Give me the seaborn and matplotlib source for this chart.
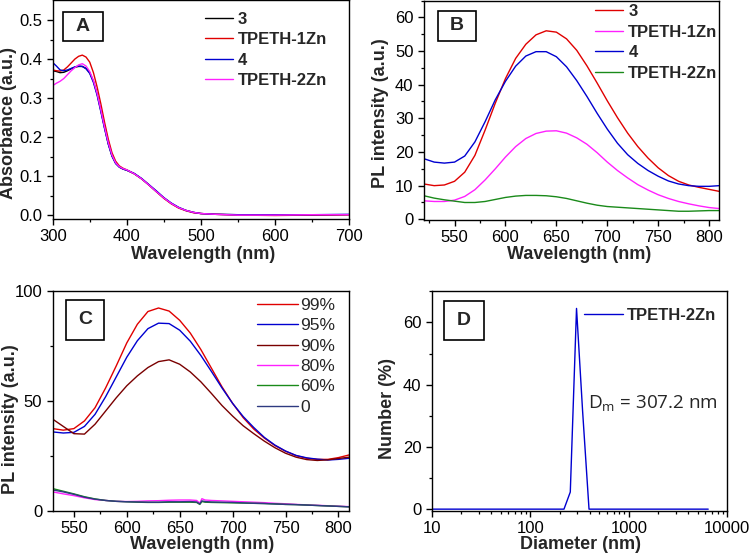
import numpy as np
import pandas as pd
import matplotlib
matplotlib.use("Agg")
import matplotlib.pyplot as plt
from matplotlib.lines import Line2D
from matplotlib.patches import Rectangle
from matplotlib.ticker import MultipleLocator, LogLocator, NullFormatter, FixedLocator
import seaborn as sns

# ---- data ----
# A: absorbance
wl_a = [300, 305, 310, 315, 320, 325, 330, 335, 340, 345, 350, 355, 360, 365, 370, 375, 380, 385,
        390, 395, 400, 410, 420, 430, 440, 450, 460, 470, 480, 490, 500, 520, 550, 600, 650, 700]
abs_3 = [0.370, 0.368, 0.365, 0.366, 0.370, 0.375, 0.379, 0.381, 0.381, 0.376, 0.365, 0.343, 0.310,
         0.268, 0.224, 0.183, 0.152, 0.133, 0.123, 0.118, 0.115, 0.106, 0.093, 0.077, 0.060, 0.044,
         0.030, 0.019, 0.012, 0.007, 0.004, 0.002, 0.001, 0.000, 0.000, 0.001]
abs_1zn = [0.372, 0.370, 0.369, 0.372, 0.380, 0.390, 0.400, 0.407, 0.410, 0.405, 0.392, 0.365, 0.328,
           0.285, 0.238, 0.195, 0.160, 0.138, 0.126, 0.120, 0.116, 0.106, 0.093, 0.077, 0.060, 0.043,
           0.029, 0.018, 0.011, 0.006, 0.004, 0.002, 0.000, -0.001, 0.000, 0.001]
abs_4 = [0.391, 0.382, 0.372, 0.370, 0.372, 0.376, 0.380, 0.382, 0.381, 0.375, 0.363, 0.340, 0.307,
         0.265, 0.222, 0.182, 0.151, 0.132, 0.123, 0.118, 0.115, 0.107, 0.094, 0.078, 0.062, 0.045,
         0.031, 0.020, 0.012, 0.007, 0.004, 0.002, 0.001, 0.001, 0.001, 0.002]
abs_2zn = [0.332, 0.338, 0.343, 0.350, 0.360, 0.370, 0.378, 0.385, 0.388, 0.382, 0.368, 0.345, 0.312,
           0.270, 0.226, 0.186, 0.154, 0.134, 0.124, 0.119, 0.116, 0.106, 0.093, 0.077, 0.060, 0.044,
           0.030, 0.019, 0.012, 0.007, 0.004, 0.002, 0.000, 0.000, 0.001, 0.001]

# B: PL spectra
wl_b = list(range(520, 811, 10))
pl_3 = [10.5, 10.0, 10.2, 11.3, 14.0, 19.0, 26.5, 34.5, 41.8, 47.8, 52.0, 54.8, 56.0, 55.6, 53.6,
        50.2, 45.6, 40.5, 35.2, 30.2, 25.6, 21.6, 18.2, 15.3, 13.0, 11.3, 10.2, 9.5, 8.9, 8.3]
pl_4 = [18.0, 17.0, 16.7, 17.0, 18.8, 23.0, 29.0, 35.5, 41.0, 45.5, 48.5, 49.8, 49.8, 48.3, 45.3,
        41.2, 36.5, 31.5, 26.8, 22.6, 19.2, 16.6, 14.5, 12.8, 11.4, 10.5, 10.0, 9.8, 9.8, 10.0]
pl_1zn = [5.5, 5.3, 5.3, 5.7, 6.8, 8.8, 11.7, 15.0, 18.5, 21.6, 24.0, 25.5, 26.2, 26.3, 25.6,
          24.2, 22.3, 19.8, 17.0, 14.5, 12.3, 10.3, 8.7, 7.3, 6.2, 5.3, 4.6, 4.0, 3.5, 3.2]
pl_2zn = [7.0, 6.3, 5.8, 5.4, 5.0, 5.0, 5.3, 5.9, 6.5, 6.9, 7.1, 7.1, 7.0, 6.7, 6.2,
          5.5, 4.8, 4.2, 3.8, 3.6, 3.4, 3.2, 3.0, 2.8, 2.6, 2.4, 2.4, 2.5, 2.6, 2.6]

# C: PL in water/THF mixtures
wl_c = list(range(530, 811, 10))
pl_99 = [37.5, 36.8, 37.5, 41.0, 47.0, 56.0, 66.0, 76.5, 85.0, 90.8, 92.4, 91.0, 86.8, 81.0, 73.5,
         65.0, 56.5, 49.0, 42.5, 37.3, 33.2, 29.8, 27.2, 25.2, 24.0, 23.5, 23.5, 24.3, 25.5]
pl_95 = [36.0, 35.5, 35.8, 38.5, 44.0, 52.0, 61.0, 70.0, 77.5, 83.0, 85.5, 85.3, 82.3, 77.3, 70.8,
         63.5, 56.0, 49.0, 43.0, 38.0, 33.5, 30.0, 27.3, 25.3, 24.2, 23.6, 23.2, 23.5, 24.0]
pl_90 = [41.8, 38.5, 35.2, 35.0, 39.5, 45.5, 51.5, 57.0, 61.5, 65.3, 68.0, 68.8, 66.8, 63.3, 58.8,
         53.5, 48.0, 43.2, 38.8, 35.2, 31.8, 28.8, 26.3, 24.5, 23.4, 23.0, 23.3, 23.9, 24.5]
wl_c_low = [530, 540, 550, 560, 570, 580, 590, 600, 610, 620, 630, 640, 650, 660, 666, 669, 671, 674,
            680, 690, 700, 710, 720, 730, 740, 750, 760, 770, 780, 790, 800, 810]
pl_80 = [8.7, 7.8, 7.0, 6.0, 5.2, 4.8, 4.4, 4.3, 4.4, 4.6, 4.7, 4.9, 5.0, 5.0, 4.8, 3.6, 5.6, 5.0,
         4.8, 4.6, 4.4, 4.2, 4.0, 3.8, 3.5, 3.3, 3.0, 2.8, 2.6, 2.4, 2.2, 2.0]
pl_60 = [10.2, 9.0, 7.8, 6.5, 5.5, 4.8, 4.4, 4.2, 4.0, 3.9, 3.9, 4.0, 4.0, 4.0, 3.9, 3.0, 4.3, 4.0,
         3.9, 3.8, 3.7, 3.6, 3.5, 3.4, 3.2, 3.0, 2.9, 2.7, 2.5, 2.3, 2.1, 1.9]
pl_0 = [9.6, 8.7, 7.6, 6.3, 5.4, 4.8, 4.4, 4.2, 4.1, 4.0, 4.0, 4.2, 4.2, 4.3, 4.1, 3.2, 4.6, 4.3,
        4.1, 4.0, 3.9, 3.7, 3.5, 3.4, 3.2, 3.0, 2.9, 2.7, 2.5, 2.3, 2.1, 1.9]

# D: DLS size distribution
diameter = [10, 220, 255, 295, 340, 395, 6400]
number_pct = [0, 0, 5.5, 64.5, 31.5, 0, 0]

# ---- style ----
sns.set_style("ticks", {"axes.edgecolor": "black", "xtick.color": "black", "ytick.color": "black",
                        "xtick.direction": "out", "ytick.direction": "out"})
plt.rcParams["font.family"] = ["Liberation Sans", "DejaVu Sans"]
plt.rcParams["mathtext.fontset"] = "custom"
plt.rcParams["mathtext.rm"] = "Open Sans"

W, H = 750, 557
fig = plt.figure(figsize=(7.5, 5.57), dpi=100)


def px_rect(l, t, r, b):
    return [l / W, 1 - b / H, (r - l) / W, (b - t) / H]


def px(x, y):
    return (x / W, 1 - y / H)


def long_df(x_lists, y_lists, names):
    parts = [pd.DataFrame({"x": x, "y": y, "s": n}) for x, y, n in zip(x_lists, y_lists, names)]
    return pd.concat(parts, ignore_index=True)


def style_axes(ax):
    for sp in ax.spines.values():
        sp.set_linewidth(1.0)
        sp.set_color("black")
    ax.tick_params(which="major", length=4.5, width=1.0, labelsize=12, pad=3)
    ax.tick_params(which="minor", length=2.5, width=0.9)


def panel_letter(letter, box):
    l, t, r, b = box
    fig.add_artist(Rectangle(px(l, b), (r - l) / W, (b - t) / H, transform=fig.transFigure,
                             fill=False, ec="black", lw=1.2))
    fig.text((l + r) / 2 / W, 1 - (t + b) / 2 / H, letter, ha="center", va="center",
             fontsize=14, fontweight="bold")


def add_legend(ax, names, colors, anchor, hl, tp, bold=True, ls=0.33, size=12):
    handles = [Line2D([], [], color=c, lw=1.0) for c in colors]
    leg = ax.legend(handles, names, loc="upper left", bbox_to_anchor=px(*anchor),
                    bbox_transform=fig.transFigure, frameon=False, borderpad=0, borderaxespad=0,
                    handlelength=hl, handletextpad=tp, labelspacing=ls,
                    prop={"size": size, "weight": "bold" if bold else "normal"})
    return leg


# ---- panel A ----
axA = fig.add_axes(px_rect(52.7, 0.5, 349, 219))
names_a = ["3", "TPETH-1Zn", "4", "TPETH-2Zn"]
cols_a = ["#000000", "#e00000", "#0000d0", "#ff20ff"]
dfa = long_df([wl_a] * 4, [abs_3, abs_1zn, abs_4, abs_2zn], names_a)
sns.lineplot(data=dfa, x="x", y="y", hue="s", hue_order=names_a, palette=cols_a,
             estimator=None, sort=False, lw=1.0, legend=False, ax=axA)
axA.set_xlim(300, 700)
axA.set_ylim(-0.01, 0.55)
axA.xaxis.set_major_locator(MultipleLocator(100))
axA.xaxis.set_minor_locator(MultipleLocator(50))
axA.yaxis.set_major_locator(FixedLocator([0, 0.1, 0.2, 0.3, 0.4, 0.5]))
axA.yaxis.set_minor_locator(FixedLocator([0.05, 0.15, 0.25, 0.35, 0.45]))
axA.yaxis.set_major_formatter(matplotlib.ticker.FormatStrFormatter("%.1f"))
axA.set_xlabel("Wavelength (nm)", fontsize=13, fontweight="bold")
axA.set_ylabel("Absorbance (a.u.)", fontsize=13, fontweight="bold")
axA.xaxis.set_label_coords(0.507, -0.164)
axA.yaxis.set_label_coords(-0.148, 0.44)
style_axes(axA)
add_legend(axA, names_a, cols_a, (205, 11.7), 1.7, 0.25)

# ---- panel B ----
axB = fig.add_axes(px_rect(424, 0.5, 719.3, 220))
names_b = ["3", "TPETH-1Zn", "4", "TPETH-2Zn"]
cols_b = ["#e00000", "#ff20ff", "#0000d0", "#1a8a1a"]
dfb = long_df([wl_b] * 4, [pl_3, pl_1zn, pl_4, pl_2zn], names_b)
sns.lineplot(data=dfb, x="x", y="y", hue="s", hue_order=names_b, palette=cols_b,
             estimator=None, sort=False, lw=1.0, legend=False, ax=axB)
axB.set_xlim(520, 810)
axB.set_ylim(-0.2, 65)
axB.xaxis.set_major_locator(MultipleLocator(50))
axB.xaxis.set_minor_locator(MultipleLocator(25))
axB.yaxis.set_major_locator(MultipleLocator(10))
axB.yaxis.set_minor_locator(MultipleLocator(5))
axB.set_xlabel("Wavelength (nm)", fontsize=13, fontweight="bold")
axB.set_ylabel("PL intensity (a.u.)", fontsize=13, fontweight="bold")
axB.xaxis.set_label_coords(0.525, -0.159)
axB.yaxis.set_label_coords(-0.146, 0.486)
style_axes(axB)
add_legend(axB, names_b, cols_b, (595, 4.2), 1.7, 0.3)

# ---- panel C ----
axC = fig.add_axes(px_rect(52.7, 291.3, 349, 511))
names_c = ["99%", "95%", "90%", "80%", "60%", "0"]
cols_c = ["#e00000", "#0000d0", "#7a0000", "#ff20ff", "#1a8a1a", "#2e3a80"]
dfc = long_df([wl_c] * 3 + [wl_c_low] * 3, [pl_99, pl_95, pl_90, pl_80, pl_60, pl_0], names_c)
sns.lineplot(data=dfc, x="x", y="y", hue="s", hue_order=names_c, palette=cols_c,
             estimator=None, sort=False, lw=1.0, legend=False, ax=axC)
axC.set_xlim(530, 810)
axC.set_ylim(0, 100)
axC.xaxis.set_major_locator(MultipleLocator(50))
axC.xaxis.set_minor_locator(MultipleLocator(25))
axC.yaxis.set_major_locator(MultipleLocator(50))
axC.yaxis.set_minor_locator(MultipleLocator(25))
axC.set_xlabel("Wavelength (nm)", fontsize=13, fontweight="bold")
axC.set_ylabel("PL intensity (a.u.)", fontsize=13, fontweight="bold")
axC.xaxis.set_label_coords(0.503, -0.153)
axC.yaxis.set_label_coords(-0.144, 0.42)
style_axes(axC)
add_legend(axC, names_c, cols_c, (256.7, 297.8), 2.4, 0.1, bold=False, ls=0.3, size=12.5)

# ---- panel D ----
axD = fig.add_axes(px_rect(431.7, 291.3, 727.3, 510.7))
sns.lineplot(x=diameter, y=number_pct, color="#0000d0", lw=1.0, estimator=None, sort=False, ax=axD)
axD.set_xscale("log")
axD.set_xlim(10, 10000)
axD.set_ylim(-0.5, 70)
axD.xaxis.set_major_locator(LogLocator(base=10))
axD.xaxis.set_minor_locator(LogLocator(base=10, subs=np.arange(2, 10)))
axD.xaxis.set_minor_formatter(NullFormatter())
axD.xaxis.set_major_formatter(matplotlib.ticker.FuncFormatter(lambda v, p: f"{v:g}"))
axD.yaxis.set_major_locator(MultipleLocator(20))
axD.yaxis.set_minor_locator(MultipleLocator(10))
axD.set_xlabel("Diameter (nm)", fontsize=13, fontweight="bold")
axD.set_ylabel("Number (%)", fontsize=13, fontweight="bold")
axD.xaxis.set_label_coords(0.502, -0.155)
axD.yaxis.set_label_coords(-0.151, 0.468)
style_axes(axD)
add_legend(axD, ["TPETH-2Zn"], ["#0000d0"], (584, 307.7), 2.35, 0.2)
fig.text(588.3 / W, 1 - 404 / H, r"D$_{\mathrm{m}}$ = 307.2 nm", ha="left", va="center",
         fontsize=13.6, family="Open Sans")

for ax in (axA, axB, axC, axD):
    ax.xaxis.label.set_va("center")
    ax.yaxis.label.set_va("center")

panel_letter("A", (63.3, 12.3, 102.7, 40.7))
panel_letter("B", (438, 10.7, 476, 40.7))
panel_letter("C", (65.7, 299.7, 104, 339.7))
panel_letter("D", (444, 301, 483.7, 339.7))

fig.savefig("out.png", dpi=100)
